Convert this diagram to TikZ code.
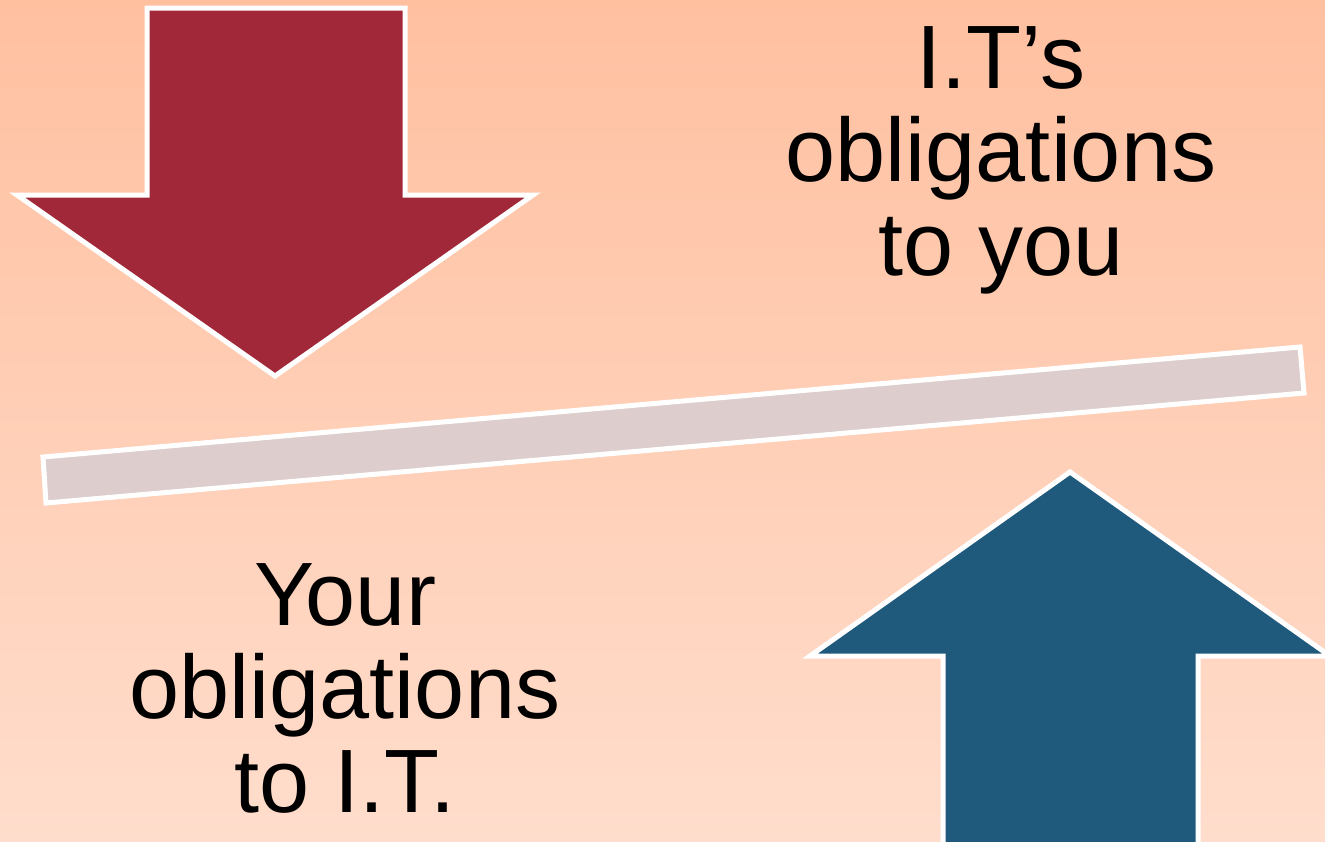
\documentclass[tikz,border=0pt]{standalone}
\usepackage{fontspec}
\setmainfont{Liberation Sans}
\definecolor{bgtop}{HTML}{FFC0A0}
\definecolor{bgbot}{HTML}{FFDDCC}
\definecolor{arrowred}{HTML}{A02838}
\definecolor{arrowblue}{HTML}{1F597C}
\definecolor{barfill}{HTML}{DECDCD}
\tikzset{
  shapeborder/.style={draw=white, line width=2.5pt, line join=miter},
  label text/.style={align=center, inner sep=0pt, anchor=north, text=black,
    font=\fontsize{45}{46.75}\selectfont}
}
\begin{document}
\begin{tikzpicture}[x=0.5pt,y=-0.5pt]
\useasboundingbox (0,0) rectangle (1325,841);
\begin{scope}
\clip (0,0) rectangle (1325,841);
\shade[top color=bgtop, bottom color=bgbot] (0,0) rectangle (1325,841);
% red down arrow
\fill[arrowred, shapeborder] (147,8) -- (405,8) -- (405,195) -- (533,195) -- (275,376) -- (17,195) -- (147,195) -- cycle;
% blue up arrow
\fill[arrowblue, shapeborder] (943,860) -- (943,656) -- (810,656) -- (1070,472) -- (1330,656) -- (1198,656) -- (1198,860) -- cycle;
% tilted bar
\fill[barfill, shapeborder] (43,457) -- (1300,347) -- (1304,393) -- (46,503) -- cycle;
\end{scope}
\node[label text] (its) at (1001,26) {I.T’s\\obligations\\to you};
\node[label text] (yours) at (345,563) {Your\\obligations\\to I.T.};
\end{tikzpicture}
\end{document}
